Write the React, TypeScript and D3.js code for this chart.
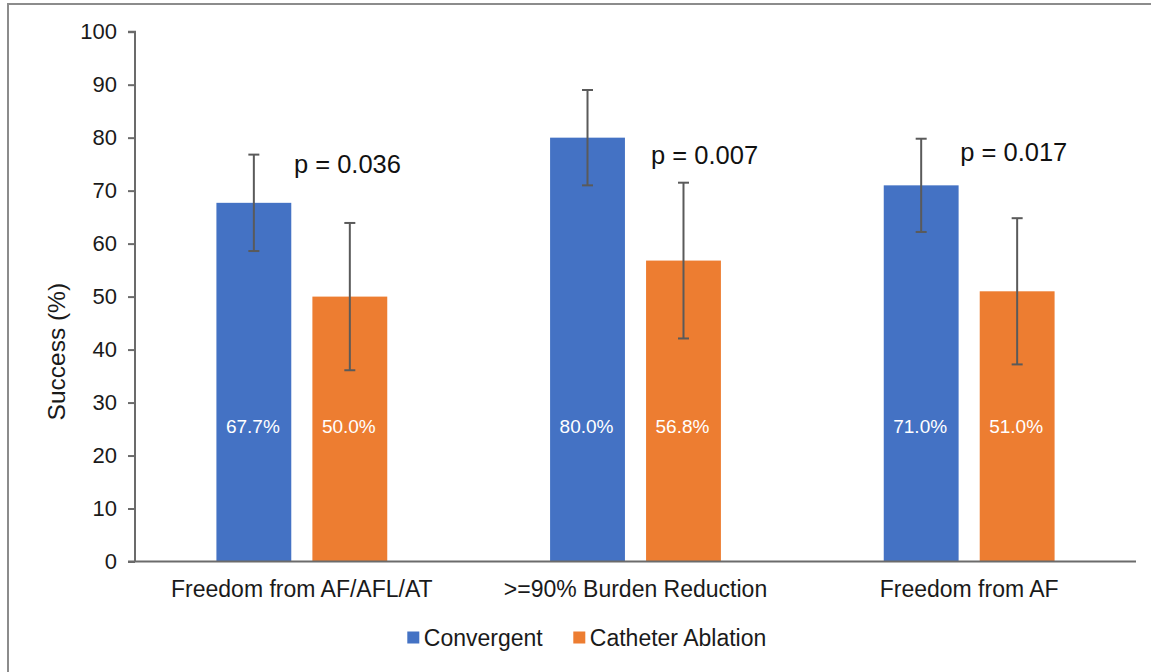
import React, { useEffect, useRef } from "react";
import * as d3 from "d3";

const categories = ["Freedom from AF/AFL/AT", ">=90% Burden Reduction", "Freedom from AF"];
const seriesNames = ["Convergent", "Catheter Ablation"];
const convergent = [67.7, 80.0, 71.0];
const ablation = [50.0, 56.8, 51.0];
const convergentErr = [9.1, 9.0, 8.8];
const ablationErr = [13.9, 14.7, 13.8];
const pValues = ["p = 0.036", "p = 0.007", "p = 0.017"];
const yTicks = [0, 10, 20, 30, 40, 50, 60, 70, 80, 90, 100];
const colors = ["#4472C4", "#ED7D31"];

const W = 1151;
const H = 672;
const FONT = "'Liberation Sans', Arial, sans-serif";

export default function App() {
  const ref = useRef<SVGSVGElement>(null);

  useEffect(() => {
    const svg = d3.select(ref.current);
    svg.selectAll("*").remove();

    // outer frame
    svg.append("rect")
      .attr("x", 8).attr("y", 4).attr("width", W + 20).attr("height", H + 20)
      .attr("fill", "white").attr("stroke", "#8c8c8c").attr("stroke-width", 2);

    const left = 135, right = 1136, top = 31.7, bottom = 561.5;
    const y = d3.scaleLinear().domain([0, 100]).range([bottom, top]);
    const x0 = d3.scaleBand<string>().domain(categories).range([left, right])
      .paddingInner(0.488).paddingOuter(0.244);
    const x1 = d3.scaleBand<string>().domain(seriesNames).range([0, x0.bandwidth()])
      .paddingInner(0.22).paddingOuter(0);

    const values = [convergent, ablation];
    const errs = [convergentErr, ablationErr];

    const g = svg.append("g");

    // bars
    seriesNames.forEach((s, si) => {
      categories.forEach((c, ci) => {
        const v = values[si][ci];
        const bx = (x0(c) as number) + (x1(s) as number);
        g.append("rect")
          .attr("x", bx).attr("y", y(v))
          .attr("width", x1.bandwidth()).attr("height", y(0) - y(v))
          .attr("fill", colors[si]);
      });
    });

    // y axis
    const yAxis = d3.axisLeft(y).tickValues(yTicks).tickSize(7).tickPadding(11)
      .tickFormat(d3.format("d") as any);
    const ya = svg.append("g").attr("transform", `translate(${left},0)`).call(yAxis);
    ya.select(".domain").attr("stroke", "#6b6b6b").attr("stroke-width", 2)
      .attr("d", `M-7,${top}H0V${bottom}`);
    ya.selectAll(".tick line").attr("stroke", "#6b6b6b").attr("stroke-width", 2);
    ya.selectAll(".tick text").attr("fill", "#1a1a1a").attr("font-size", 22).attr("font-family", FONT);

    // x axis line
    svg.append("line")
      .attr("x1", left - 7).attr("x2", right).attr("y1", bottom).attr("y2", bottom)
      .attr("stroke", "#6b6b6b").attr("stroke-width", 2);

    // error bars
    seriesNames.forEach((s, si) => {
      categories.forEach((c, ci) => {
        const v = values[si][ci];
        const e = errs[si][ci];
        const cx = (x0(c) as number) + (x1(s) as number) + x1.bandwidth() / 2;
        const eg = g.append("g").attr("stroke", "#5a5a5a").attr("stroke-width", 2);
        eg.append("line").attr("x1", cx).attr("x2", cx).attr("y1", y(v + e)).attr("y2", y(v - e));
        eg.append("line").attr("x1", cx - 5.5).attr("x2", cx + 5.5).attr("y1", y(v + e)).attr("y2", y(v + e));
        eg.append("line").attr("x1", cx - 5.5).attr("x2", cx + 5.5).attr("y1", y(v - e)).attr("y2", y(v - e));
      });
    });

    // data labels
    seriesNames.forEach((s, si) => {
      categories.forEach((c, ci) => {
        const v = values[si][ci];
        const cx = (x0(c) as number) + (x1(s) as number) + x1.bandwidth() / 2;
        g.append("text")
          .attr("x", cx - 1).attr("y", y(25.4))
          .attr("text-anchor", "middle").attr("dominant-baseline", "central")
          .attr("fill", "white").attr("font-size", 19).attr("font-family", FONT)
          .text(v.toFixed(1) + "%");
      });
    });

    // p-value annotations (placement in band offset px / value units)
    const pAt = [{ dx: 77.5, v: 73.3 }, { dx: 101, v: 75.0 }, { dx: 76.5, v: 75.6 }];
    categories.forEach((c, ci) => {
      svg.append("text")
        .attr("x", (x0(c) as number) + pAt[ci].dx).attr("y", y(pAt[ci].v))
        .attr("fill", "#111").attr("font-size", 25.5).attr("font-family", FONT)
        .text(pValues[ci]);
    });

    // category labels
    categories.forEach((c) => {
      svg.append("text")
        .attr("x", (x0(c) as number) + x0.bandwidth() / 2).attr("y", 597)
        .attr("text-anchor", "middle")
        .attr("fill", "#1a1a1a").attr("font-size", 23).attr("font-family", FONT)
        .text(c);
    });

    // y title
    svg.append("text")
      .attr("transform", `translate(65,${(281.7 + 421.7) / 2}) rotate(-90)`)
      .attr("text-anchor", "middle")
      .attr("fill", "#1a1a1a").attr("font-size", 24.5).attr("font-family", FONT)
      .text("Success (%)");

    // legend
    const legX = [407.3, 573.3];
    seriesNames.forEach((s, si) => {
      svg.append("rect").attr("x", legX[si]).attr("y", 631.5).attr("width", 12).attr("height", 12)
        .attr("fill", colors[si]);
      svg.append("text").attr("x", legX[si] + 16.5).attr("y", 646)
        .attr("fill", "#1a1a1a").attr("font-size", 23).attr("font-family", FONT)
        .text(s);
    });
  }, []);

  return (
    <svg
      ref={ref}
      width={W}
      height={H}
      style={{ position: "absolute", left: 0, top: 0, background: "white" }}
    />
  );
}
